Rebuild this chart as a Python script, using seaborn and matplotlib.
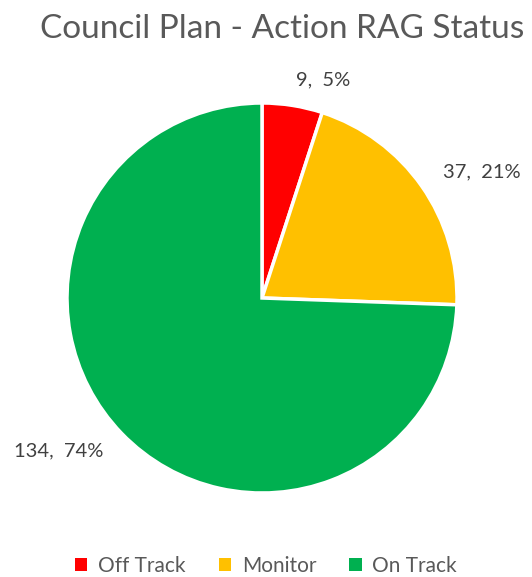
import matplotlib
matplotlib.use("Agg")
import matplotlib.pyplot as plt
import seaborn as sns
from matplotlib.patches import Patch

# Action counts by RAG status
statuses = ["Off Track", "Monitor", "On Track"]
counts = [9, 37, 134]
colours = ["#FF0000", "#FFC000", "#00B050"]

sns.set_theme(style="white")
plt.rcParams["font.family"] = ["Lato", "DejaVu Sans"]

palette = sns.color_palette(colours)
total = sum(counts)
labels = [f"{c},  {round(c / total * 100)}%" for c in counts]

fig = plt.figure(figsize=(5.32, 5.77), dpi=100)
ax = fig.add_axes([67 / 532, 84 / 577, 390 / 532, 390 / 577])

wedges, texts = ax.pie(counts, labels=labels, colors=palette, startangle=90,
                       counterclock=False, labeldistance=1.13,
                       wedgeprops=dict(edgecolor="white", linewidth=2.5),
                       textprops=dict(fontsize=14.5, color="#404040"))
ax.set_xlim(-1, 1)
ax.set_ylim(-1, 1)
ax.set_aspect("equal")

fig.suptitle("Council Plan - Action RAG Status", x=0.53, y=0.975,
             fontsize=24, color="#595959")

handles = [Patch(facecolor=c, edgecolor="none") for c in palette]
fig.legend(handles, statuses, loc="lower center", bbox_to_anchor=(0.5, -0.03),
           ncol=3, frameon=False, fontsize=15, labelcolor="#595959",
           handlelength=0.6, handleheight=0.6, handletextpad=0.5, columnspacing=1.6)

plt.savefig("out.png", dpi=100)
